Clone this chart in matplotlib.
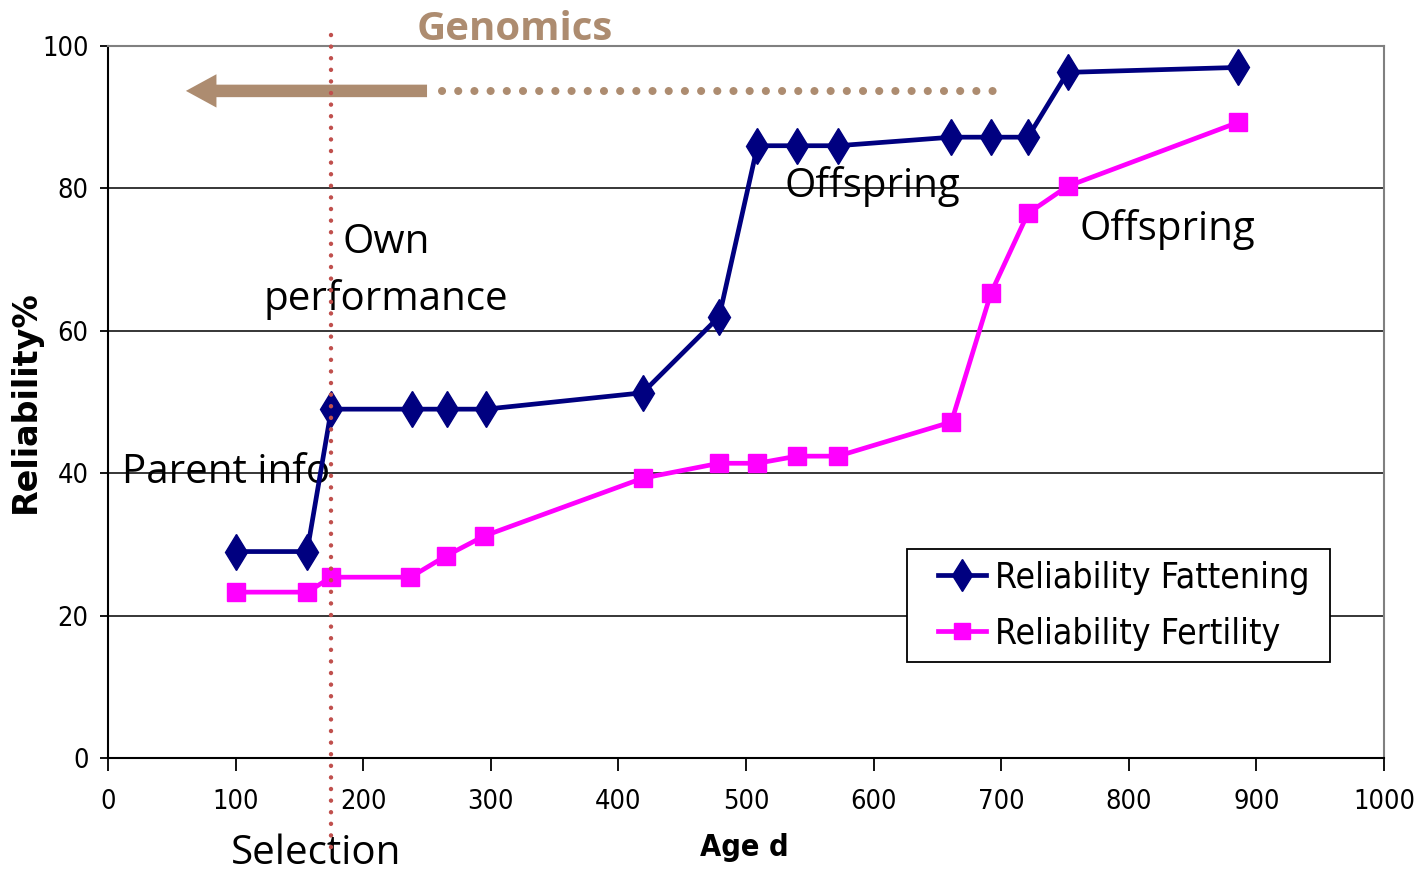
"""
Reliability of breeding values over age, fattening vs fertility traits
"""

import matplotlib.pyplot as plt
from matplotlib.patches import Rectangle

# Data
age_fattening = [100, 156, 175, 238, 266, 296, 419, 479, 509, 540, 572, 661, 692, 721, 752, 886]
rel_fattening = [29, 29, 49, 49, 49, 49, 51.3, 62, 86, 86, 86, 87.2, 87.2, 87.2, 96.3, 97]

age_fertility = [100, 156, 175, 237, 265, 295, 419, 479, 509, 540, 572, 661, 692, 721, 752, 886]
rel_fertility = [23.3, 23.3, 25.4, 25.4, 28.4, 31.2, 39.3, 41.4, 41.4, 42.4, 42.4, 47.2, 65.3, 76.5, 80.3, 89.3]

x_ticks = [0, 100, 200, 300, 400, 500, 600, 700, 800, 900, 1000]
y_ticks = [0, 20, 40, 60, 80, 100]

selection_age = 175
brown = '#AD8C70'


def plot_reliability():
    fig = plt.figure(figsize=(14.2, 8.72), dpi=100)
    ax = fig.add_axes([0.0761, 0.1307, 0.8985, 0.8165])

    # gridlines
    for y in y_ticks[1:-1]:
        ax.axhline(y, color='black', linewidth=1.1, zorder=1)

    ax.plot(age_fattening, rel_fattening, color='#000080', linewidth=3.4,
            marker='d', markersize=18, label='Reliability Fattening', zorder=4)
    ax.plot(age_fertility, rel_fertility, color='#FF00FF', linewidth=3.4,
            marker='s', markersize=12.5, label='Reliability Fertility', zorder=3)

    ax.set_xlim(0, 1000)
    ax.set_ylim(0, 100)
    ax.set_xticks(x_ticks)
    ax.set_yticks(y_ticks)
    tick_font = dict(family='DejaVu Sans', stretch='condensed', size=19.5)
    ax.set_xticklabels([str(t) for t in x_ticks], **tick_font)
    ax.set_yticklabels([str(t) for t in y_ticks], **tick_font)
    ax.tick_params(axis='x', length=9, width=1.3, pad=13, direction='out')
    ax.tick_params(axis='y', length=6, width=1.3, pad=8, direction='out')

    for side in ['top', 'right']:
        ax.spines[side].set_color('#808080')
        ax.spines[side].set_linewidth(1.5)
    for side in ['left', 'bottom']:
        ax.spines[side].set_linewidth(1.5)

    ax.set_ylabel('Reliability%', fontsize=24, fontweight='bold', va='center')
    ax.yaxis.set_label_coords(-0.065, 0.5)
    ax.set_xlabel('Age d', fontsize=22, fontweight='bold', va='center',
                  family='DejaVu Sans', stretch='condensed')
    ax.xaxis.set_label_coords(0.499, -0.126)

    # selection line
    ax.plot([selection_age, selection_age], [101.6, -13], color='#C0504D',
            linestyle=(0, (0.01, 2.6)), linewidth=3.2, dash_capstyle='round',
            clip_on=False, zorder=5)

    # genomics arrow
    ax.annotate('', xy=(61, 93.7), xytext=(250, 93.7),
                arrowprops=dict(arrowstyle='simple,head_width=2.4,head_length=2.2,tail_width=0.9',
                                color=brown, lw=0, shrinkA=0, shrinkB=0))
    ax.plot([262, 699], [93.7, 93.7], color=brown, linestyle=(0, (0.01, 2.0)),
            linewidth=5.8, dash_capstyle='round')
    ax.text(319, 100.8, 'Genomics', color=brown, fontsize=29, fontweight='bold',
            family='Open Sans', ha='center', va='baseline')

    # annotations
    ann = dict(family='Open Sans', fontsize=29, color='black')
    ax.text(218, 72.4, 'Own', ha='center', va='center', **ann)
    ax.text(218, 64.4, 'performance', ha='center', va='center', **ann)
    ax.text(11, 40, 'Parent info', ha='left', va='center', **ann)
    ax.text(599, 80.3, 'Offspring', ha='center', va='center', **ann)
    ax.text(830, 74.2, 'Offspring', ha='center', va='center', **ann)
    ax.text(163, -13.5, 'Selection', ha='center', va='center', **ann)

    # legend with its own frame
    ax.add_patch(Rectangle((0.626, 0.135), 0.332, 0.159, transform=ax.transAxes,
                           facecolor='white', edgecolor='black', linewidth=1.3,
                           zorder=6))
    leg = ax.legend(loc='center left', bbox_to_anchor=(0.6505, 0.214),
                    prop=dict(family='DejaVu Sans', stretch='condensed', size=25.5),
                    frameon=False, handlelength=1.35, handletextpad=0.25,
                    borderpad=0, borderaxespad=0, labelspacing=0.62,
                    markerscale=0.9)
    leg.set_zorder(7)

    plt.savefig('out.png')


if __name__ == "__main__":
    plot_reliability()
